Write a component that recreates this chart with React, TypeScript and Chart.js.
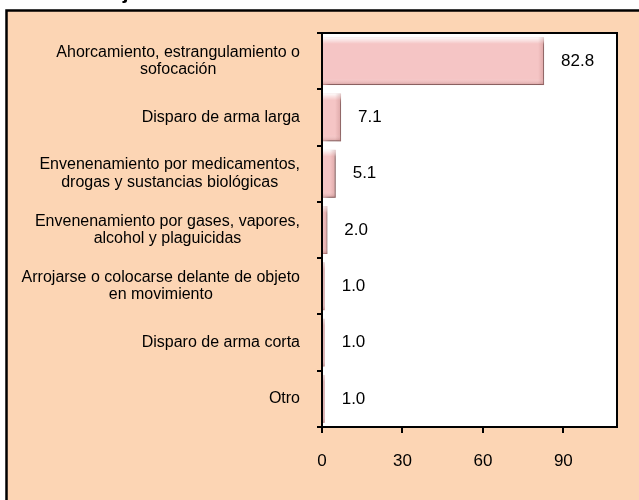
import React, { useEffect, useRef } from "react";
import { Chart, registerables } from "chart.js";

Chart.register(...registerables);

const categories: string[][] = [
  ["Ahorcamiento, estrangulamiento o", "sofocación"],
  ["Disparo de arma larga"],
  ["Envenenamiento por medicamentos,", "drogas y sustancias biológicas"],
  ["Envenenamiento por gases, vapores,", "alcohol y plaguicidas"],
  ["Arrojarse o colocarse delante de objeto", "en movimiento"],
  ["Disparo de arma corta"],
  ["Otro"],
];
const values: number[] = [82.8, 7.1, 5.1, 2.0, 1.0, 1.0, 1.0];
const xTicks: number[] = [0, 30, 60, 90];
const xMax = 110;
const titleText = "Porcentaje";

const FONT = "'Liberation Sans', Arial, sans-serif";

export default function App() {
  const ref = useRef<HTMLCanvasElement>(null);

  useEffect(() => {
    if (!ref.current) return;

    const framePlugin = {
      id: "frame",
      beforeDraw(chart: any) {
        const { ctx, width, height, chartArea } = chart;
        ctx.save();
        ctx.fillStyle = "#ffffff";
        ctx.fillRect(0, 0, width, height);
        ctx.fillStyle = "#FCD5B4";
        ctx.fillRect(7, 10, width, height);
        ctx.strokeStyle = "#000";
        ctx.lineWidth = 2.5;
        ctx.beginPath();
        ctx.moveTo(6.5, height + 5);
        ctx.lineTo(6.5, 10.5);
        ctx.lineTo(width + 5, 10.5);
        ctx.stroke();
        ctx.fillStyle = "#ffffff";
        ctx.fillRect(chartArea.left, chartArea.top, chartArea.right - chartArea.left, chartArea.bottom - chartArea.top);
        ctx.fillStyle = "#000";
        ctx.font = `bold 21px ${FONT}`;
        ctx.textAlign = "left";
        ctx.textBaseline = "alphabetic";
        ctx.fillText(titleText, 33, -1);
        ctx.restore();
      },
      beforeDatasetsDraw(chart: any) {
        const ctx = chart.ctx;
        ctx.save();
        ctx.shadowColor = "rgba(0,0,0,0.5)";
        ctx.shadowOffsetX = 3;
        ctx.shadowOffsetY = 4;
        ctx.shadowBlur = 5;
      },
      afterDatasetsDraw(chart: any) {
        const ctx = chart.ctx;
        ctx.restore();
        const meta = chart.getDatasetMeta(0);
        meta.data.forEach((bar: any) => {
          const top = bar.y - bar.height / 2;
          const h = bar.height;
          const left = bar.base;
          const w = bar.x - bar.base;
          if (w <= 0) return;
          const g = ctx.createLinearGradient(0, top, 0, top + h);
          g.addColorStop(0, "rgba(255,255,255,0.95)");
          g.addColorStop(0.14, "rgba(255,255,255,0)");
          g.addColorStop(0.86, "rgba(255,255,255,0)");
          g.addColorStop(1, "rgba(150,80,80,0.35)");
          ctx.save();
          ctx.fillStyle = g;
          ctx.fillRect(left, top, w, h);
          const g2 = ctx.createLinearGradient(left + w - 6, 0, left + w, 0);
          g2.addColorStop(0, "rgba(150,80,80,0)");
          g2.addColorStop(1, "rgba(150,80,80,0.25)");
          ctx.fillStyle = g2;
          ctx.fillRect(Math.max(left, left + w - 6), top, Math.min(6, w), h);
          ctx.restore();
        });
        ctx.save();
        ctx.fillStyle = "#000";
        ctx.font = `17px ${FONT}`;
        ctx.textAlign = "left";
        ctx.textBaseline = "middle";
        meta.data.forEach((bar: any, i: number) => {
          ctx.fillText(values[i].toFixed(1), bar.x + 17, bar.y);
        });
        ctx.restore();
      },
      afterDraw(chart: any) {
        const { ctx, chartArea } = chart;
        ctx.save();
        ctx.strokeStyle = "#000";
        ctx.lineWidth = 2;
        ctx.strokeRect(chartArea.left, chartArea.top, chartArea.right - chartArea.left, chartArea.bottom - chartArea.top);
        const yScale = chart.scales.y;
        ctx.font = `16px ${FONT}`;
        ctx.fillStyle = "#000";
        ctx.textAlign = "center";
        ctx.textBaseline = "middle";
        const lh = 17.6;
        const rightEdge = chartArea.left - 22;
        categories.forEach((lines, i) => {
          const cy = yScale.getPixelForValue(i);
          const w = Math.max(...lines.map((l) => ctx.measureText(l).width));
          const cx = rightEdge - w / 2;
          const y0 = cy - ((lines.length - 1) * lh) / 2;
          lines.forEach((l, k) => ctx.fillText(l, cx, y0 + k * lh));
        });
        ctx.restore();
      },
    };

    const chart = new Chart(ref.current, {
      type: "bar",
      data: {
        labels: categories.map((c) => c.join(" ")),
        datasets: [
          {
            data: values,
            backgroundColor: "#F5C5C5",
            borderColor: "#E2ACAC",
            borderWidth: 1,
            barPercentage: 0.85,
            categoryPercentage: 1,
          },
        ],
      },
      options: {
        indexAxis: "y",
        responsive: false,
        animation: false,
        layout: { padding: { left: 10, right: 22, top: 33, bottom: 33 } },
        plugins: {
          legend: { display: false },
          tooltip: { enabled: false },
          title: { display: false },
        },
        scales: {
          x: {
            min: 0,
            max: xMax,
            afterBuildTicks(scale: any) {
              scale.ticks = xTicks.map((v) => ({ value: v }));
            },
            afterFit(scale: any) {
              scale.height = 40;
            },
            border: { display: true, color: "#000", width: 2 },
            grid: { drawOnChartArea: false, color: "#000", lineWidth: 2, tickLength: 6 },
            ticks: {
              color: "#000",
              font: { family: FONT, size: 17 },
              padding: 18,
              maxRotation: 0,
            },
          },
          y: {
            afterFit(scale: any) {
              scale.width = 312;
            },
            border: { display: true, color: "#000", width: 2 },
            grid: { drawOnChartArea: false, color: "#000", lineWidth: 2, tickLength: 5, offset: true },
            ticks: { display: false },
          },
        },
      },
      plugins: [framePlugin],
    });
    return () => chart.destroy();
  }, []);

  return (
    <div style={{ position: "fixed", left: 0, top: 0, width: 639, height: 500 }}>
      <canvas ref={ref} width={639} height={500} />
    </div>
  );
}
